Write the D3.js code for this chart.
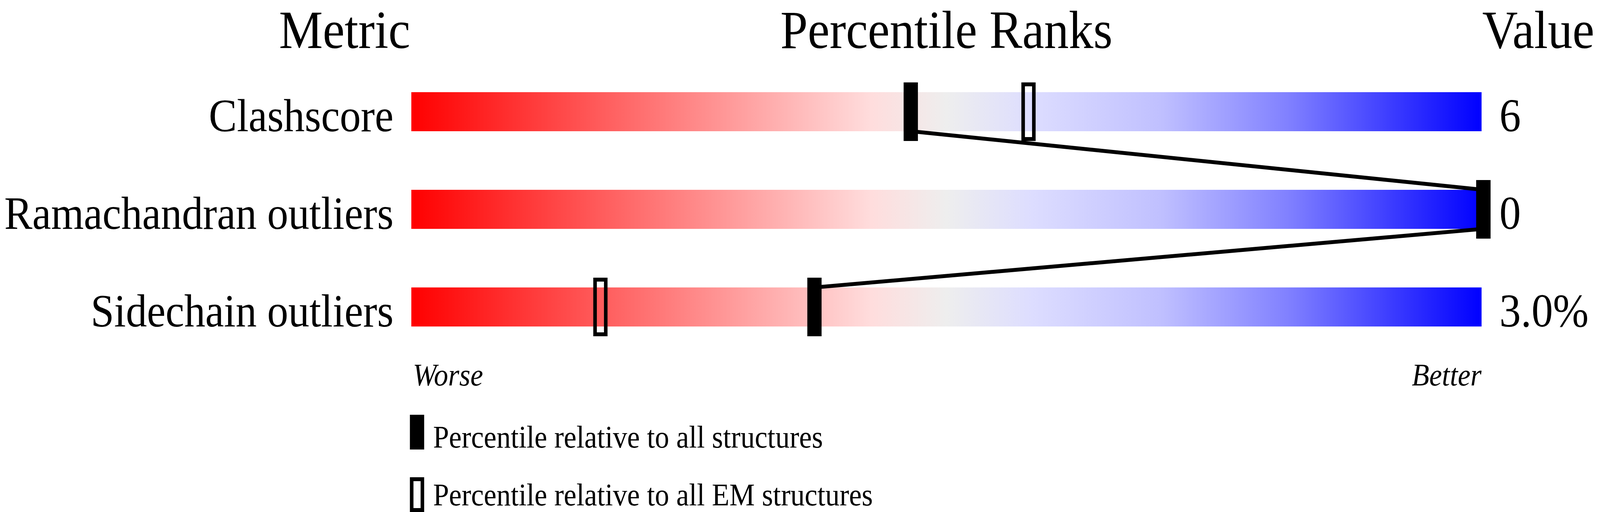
<!DOCTYPE html>
<html>
<head>
<meta charset="utf-8">
<script src="https://cdn.jsdelivr.net/npm/d3@7"></script>
<style>
  html, body { margin: 0; padding: 0; background: #fff; overflow: hidden; }
  #slider-chart svg { display: block; }
  text { font-family: "Liberation Serif", "Times New Roman", serif; fill: #000; }
</style>
</head>
<body>
<div id="slider-chart"></div>
<script>
// Chart data
const metrics = ["Clashscore", "Ramachandran outliers", "Sidechain outliers"];
const values = ["6", "0", "3.0%"];
const percentileAll = [46.5, 100, 37.5]; // filled markers
const percentileEM = [57.5, 100, 17.5]; // open markers
const headers = ["Metric", "Percentile Ranks", "Value"];
const legendLabels = [
  "Percentile relative to all structures",
  "Percentile relative to all EM structures",
];

const createSliderChart = () => {
  d3.select("#slider-chart").selectAll("*").remove();

  const width = 4485;
  const height = 1311;
  const barLeft = 1153;
  const barWidth = 3000;
  const barHeight = 100;

  // Fit the drawing to whatever the window really is
  const svg = d3
    .select("#slider-chart")
    .append("svg")
    .attr("viewBox", `0 0 ${width} ${height}`)
    .attr("preserveAspectRatio", "none")
    .style("width", "100vw")
    .style("height", "100vh");

  // Gradient for the bars
  const grad = svg
    .append("defs")
    .append("linearGradient")
    .attr("id", "rank-grad")
    .attr("x1", "0%")
    .attr("x2", "100%")
    .attr("y1", "0%")
    .attr("y2", "0%");
  [
    [0, "#ff0000"],
    [0.22, "#ff7272"],
    [0.43, "#ffdddd"],
    [0.5, "#eeeeee"],
    [0.58, "#ddddff"],
    [0.7, "#c0c0ff"],
    [0.82, "#8080ff"],
    [1, "#0000ff"],
  ].forEach(([o, c]) => {
    grad.append("stop").attr("offset", o).attr("stop-color", c);
  });

  // Scales
  const y = d3.scaleBand().domain(metrics).range([236, 986]);
  const x = d3
    .scaleLinear()
    .domain([0, 100])
    .range([barLeft + 5, barLeft + barWidth + 5]);

  const rowTop = (m) => y(m);
  const rowBottom = (m) => y(m) + barHeight;

  // Headers
  svg
    .selectAll(".header")
    .data(headers)
    .enter()
    .append("text")
    .attr("class", "header")
    .attr("x", (d, i) => [966, barLeft + barWidth / 2, barLeft + barWidth + 2][i])
    .attr("y", 123)
    .attr("text-anchor", (d, i) => ["middle", "middle", "start"][i])
    .attr("font-size", 138)
    .text((d) => d);

  // Bars
  svg
    .selectAll(".bar")
    .data(metrics)
    .enter()
    .append("rect")
    .attr("class", "bar")
    .attr("x", barLeft)
    .attr("y", (d) => rowTop(d))
    .attr("width", barWidth)
    .attr("height", barHeight)
    .attr("fill", "url(#rank-grad)");

  // Metric labels
  svg
    .selectAll(".label")
    .data(metrics)
    .enter()
    .append("text")
    .attr("class", "label")
    .attr("x", barLeft - 50)
    .attr("y", (d) => rowBottom(d))
    .attr("text-anchor", "end")
    .attr("font-size", 118)
    .text((d) => d);

  // Values
  svg
    .selectAll(".value")
    .data(values)
    .enter()
    .append("text")
    .attr("class", "value")
    .attr("x", barLeft + barWidth + 50)
    .attr("y", (d, i) => rowBottom(metrics[i]))
    .attr("font-size", 120)
    .text((d) => d);

  // Line joining the filled markers
  const pts = [];
  metrics.forEach((m, i) => {
    pts.push([x(percentileAll[i]), rowTop(m)]);
    pts.push([x(percentileAll[i]), rowBottom(m)]);
  });
  svg
    .append("path")
    .attr("d", d3.line()(pts))
    .attr("fill", "none")
    .attr("stroke", "#000")
    .attr("stroke-width", 10);

  // Open markers (EM structures)
  svg
    .selectAll(".em-marker")
    .data(percentileEM)
    .enter()
    .append("rect")
    .attr("class", "em-marker")
    .attr("x", (d) => x(d) - 15)
    .attr("y", (d, i) => rowTop(metrics[i]) - 20)
    .attr("width", 30)
    .attr("height", 140)
    .attr("fill", "none")
    .attr("stroke", "#000")
    .attr("stroke-width", 10);

  // Filled markers (all structures)
  svg
    .selectAll(".all-marker")
    .data(percentileAll)
    .enter()
    .append("rect")
    .attr("class", "all-marker")
    .attr("x", (d) => x(d) - 20)
    .attr("y", (d, i) => rowTop(metrics[i]) - 25)
    .attr("width", 40)
    .attr("height", 150)
    .attr("fill", "#000");

  // Worse / Better
  svg
    .append("text")
    .attr("x", barLeft + 4)
    .attr("y", 987)
    .attr("font-size", 80)
    .attr("font-style", "italic")
    .text("Worse");
  svg
    .append("text")
    .attr("x", barLeft + barWidth)
    .attr("y", 987)
    .attr("text-anchor", "end")
    .attr("font-size", 80)
    .attr("font-style", "italic")
    .text("Better");

  // Legend
  const legend = svg
    .selectAll(".legend")
    .data(legendLabels)
    .enter()
    .append("g")
    .attr("class", "legend")
    .attr("transform", (d, i) => `translate(1149,${1062 + i * 160})`);
  legend
    .append("rect")
    .attr("x", (d, i) => (i === 0 ? 0 : 5))
    .attr("y", (d, i) => (i === 0 ? 0 : 5))
    .attr("width", (d, i) => (i === 0 ? 40 : 30))
    .attr("height", (d, i) => (i === 0 ? 89 : 79))
    .attr("fill", (d, i) => (i === 0 ? "#000" : "none"))
    .attr("stroke", (d, i) => (i === 0 ? "none" : "#000"))
    .attr("stroke-width", 10);
  legend
    .append("text")
    .attr("x", 65)
    .attr("y", (d, i) => (i === 0 ? 84 : 72))
    .attr("font-size", 80)
    .text((d) => d);
};

createSliderChart();
</script>
</body>
</html>
